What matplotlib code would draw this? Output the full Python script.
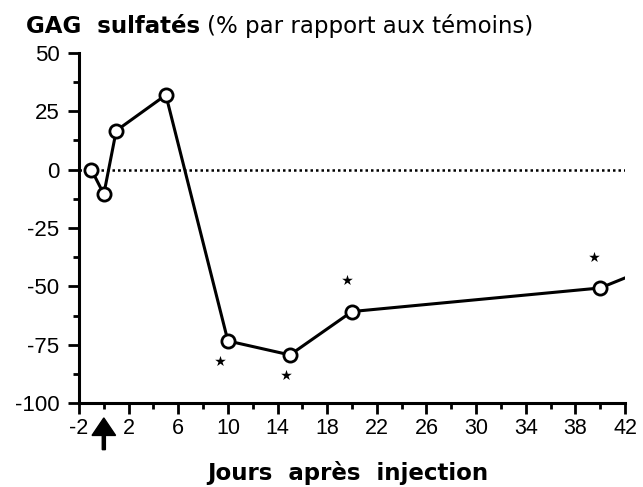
import numpy as np
import matplotlib.pyplot as plt

plt.rcParams['font.family'] = ['Liberation Sans', 'DejaVu Sans']
plt.rcParams['axes.unicode_minus'] = False

# data
jours = [-1, 0, 1, 5, 10, 15, 20, 40]
gag = [0, -10.5, 16.7, 32, -73.4, -79.4, -60.8, -50.7]
# line continues past the last point without a marker
fin_x = [40, 42]
fin_y = [-50.7, -46.4]

# significance stars
star_x = [9.4, 14.65, 19.6, 39.5]
star_y = [-82, -88, -47.3, -37.5]

xticks = [-2, 2, 6, 10, 14, 18, 22, 26, 30, 34, 38, 42]
yticks = [50, 25, 0, -25, -50, -75, -100]

W, H = 643, 487
fig = plt.figure(figsize=(6.43, 4.87), dpi=100)
ax = fig.add_axes([79 / W, (H - 403) / H, (625 - 79) / W, 350 / H])

ax.axhline(0, color='black', linestyle=(0, (1, 1.2)), linewidth=1.8, zorder=1)
ax.plot(fin_x, fin_y, color='black', linewidth=2.2, zorder=2)
ax.plot(jours, gag, color='black', linewidth=2.2, marker='o', markersize=9.5,
        markerfacecolor='white', markeredgecolor='black', markeredgewidth=2, zorder=3)
ax.scatter(star_x, star_y, marker='*', s=65, color='black', linewidths=0)

ax.set_xlim(-2, 42)
ax.set_ylim(-100, 50)
ax.set_xticks(xticks)
ax.set_xticks(np.arange(-2, 43, 2), minor=True)
ax.set_yticks(yticks)
ax.set_yticks(np.arange(-100, 51, 12.5), minor=True)
ax.tick_params(axis='both', which='major', width=2, length=8, direction='out')
ax.tick_params(axis='both', which='minor', width=2, length=4.5, direction='out')
ax.tick_params(axis='x', which='major', labelsize=15.5, pad=3)
ax.tick_params(axis='y', which='major', labelsize=16, pad=6)

for s in ['top', 'right']:
    ax.spines[s].set_visible(False)
for s in ['left', 'bottom']:
    ax.spines[s].set_linewidth(2.2)

# arrow marking the injection day
ax.arrow(0, -120, 0, 13.6, width=0.25, head_width=1.9, head_length=7.5,
         length_includes_head=True, color='black', clip_on=False)

# title: bold part then normal part, wide DejaVu to mimic the letter spacing
t1 = fig.text(26 / W, 1 - 33 / H, 'GAG  sulfatés', fontsize=16.5, fontweight='bold',
              family='DejaVu Sans', va='baseline')
fig.canvas.draw()
bb = t1.get_window_extent()
fig.text((bb.x1 + 7) / W, 1 - 33 / H, '(% par rapport aux témoins)', fontsize=16.5,
         family='DejaVu Sans', va='baseline')
fig.text(348 / W, 1 - 480 / H, 'Jours  après  injection', fontsize=16.5, fontweight='bold',
         family='DejaVu Sans', ha='center', va='baseline')

fig.savefig('out.png', dpi=100)
